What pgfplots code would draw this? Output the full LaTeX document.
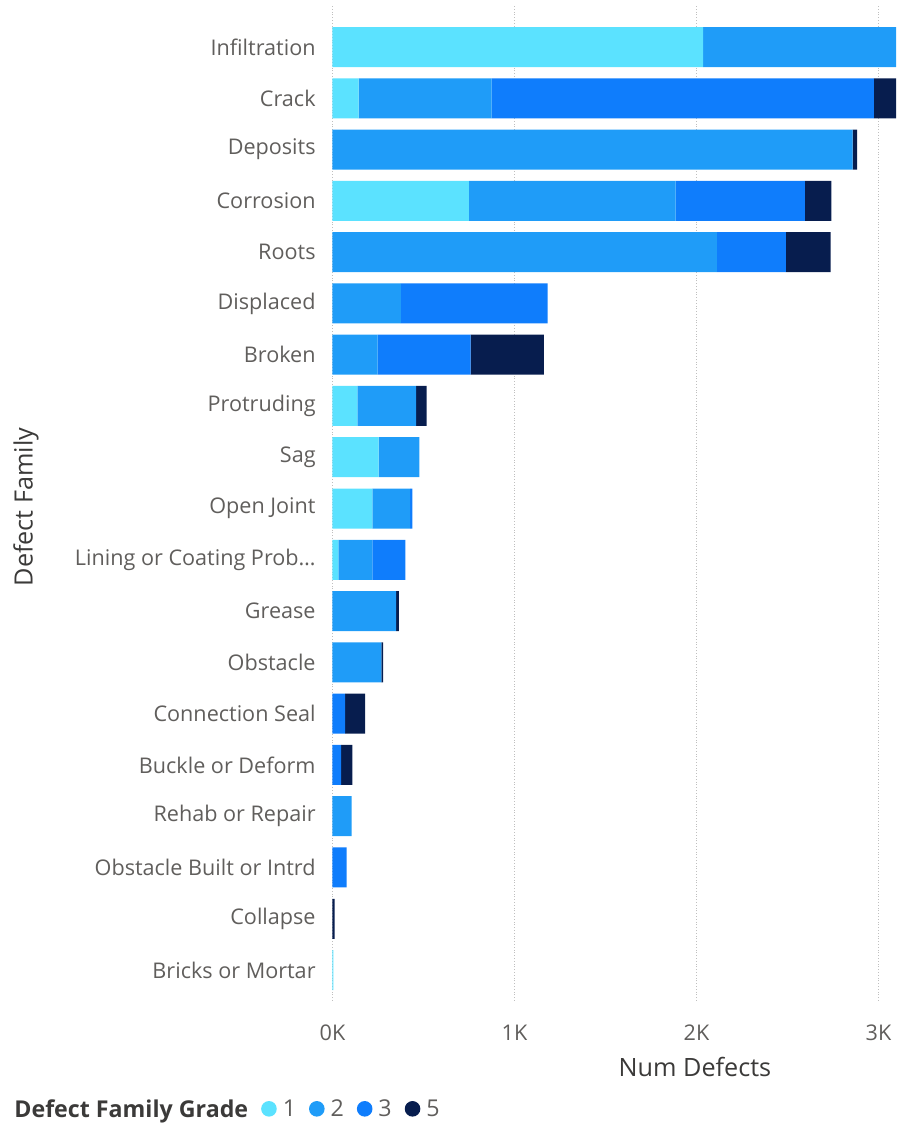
\documentclass[border=0pt]{standalone}
\usepackage{pgfplots}
\pgfplotsset{compat=1.18}
\usepackage{fontspec}
\setmainfont{Open Sans}
\definecolor{g1}{HTML}{5BE2FF}
\definecolor{g2}{HTML}{1F9CF8}
\definecolor{g3}{HTML}{0F7DFC}
\definecolor{g5}{HTML}{071D4E}
\definecolor{ticktxt}{HTML}{605E5C}
\definecolor{titletxt}{HTML}{3B3A39}
\begin{document}
\begin{tikzpicture}
\useasboundingbox (0,0) rectangle (448pt,565.5pt);
\clip (0,0) rectangle (448pt,565.5pt);
\begin{axis}[
  at={(166.25pt,65.1pt)}, anchor=south west,
  scale only axis, width=291.2pt, height=497.4pt,
  xbar stacked, bar width=20pt,
  xmin=0, xmax=3200, ymin=-0.6, ymax=18.8,
  ytick={0,1,2,3,4,5,6,7,8,9,10,11,12,13,14,15,16,17,18},
  yticklabels={Bricks or Mortar,Collapse,Obstacle Built or Intrd,Rehab or Repair,Buckle or Deform,Connection Seal,Obstacle,Grease,{Lining or Coating Prob\ldots},Open Joint,Sag,Protruding,Broken,Displaced,Roots,Corrosion,Deposits,Crack,Infiltration},
  xtick={0,1000,2000,3000}, xticklabels={0K,1K,2K,3K},
  xmajorgrids, grid style={densely dotted, black!25, line width=0.6pt},
  axis line style={draw=none}, major tick length=0pt,
  tick label style={font=\fontsize{10.8}{12}\selectfont, text=ticktxt},
  yticklabel style={anchor=east, inner sep=0pt, xshift=-8.25pt},
  xticklabel style={anchor=center, inner sep=0pt, yshift=-16pt},
  xlabel={Num Defects}, ylabel={Defect Family},
  label style={font=\fontsize{12.6}{14}\selectfont, text=titletxt},
  xlabel style={at={(axis description cs:0.6224,-0.0665)}, anchor=center},
  ylabel style={at={(axis description cs:-0.5263,0.4964)}, anchor=center},
  legend image code/.code={\fill[#1] (3.9pt,0.6pt) circle (3.9pt);},
  legend style={at={(axis description cs:-0.5675,-0.1098)}, anchor=west, draw=none, fill=none,
    legend columns=-1, font=\fontsize{11.6}{13}\selectfont, text=ticktxt,
    nodes={inner sep=0pt},
    /tikz/every odd column/.append style={column sep=3pt},
    /tikz/every even column/.append style={column sep=6.5pt}},
]
\addlegendimage{empty legend}
\addlegendentry{\textcolor{titletxt}{\bfseries Defect Family Grade}}
\addplot[fill=g1, draw=none] coordinates {(5,0) (0,1) (0,2) (0,3) (0,4) (0,5) (0,6) (0,7) (32,8) (219,9) (254,10) (137,11) (0,12) (0,13) (0,14) (749,15) (0,16) (143,17) (2037,18)};
\addlegendentry{1}
\addplot[fill=g2, draw=none] coordinates {(0,0) (0,1) (0,2) (105,3) (0,4) (0,5) (268,6) (350,7) (187,8) (207,9) (223,10) (322,11) (248,12) (376,13) (2112,14) (1136,15) (2858,16) (731,17) (1300,18)};
\addlegendentry{2}
\addplot[fill=g3, draw=none] coordinates {(0,0) (0,1) (78,2) (0,3) (47,4) (69,5) (0,6) (0,7) (181,8) (13,9) (0,10) (0,11) (511,12) (806,13) (379,14) (711,15) (0,16) (2101,17) (0,18)};
\addlegendentry{3}
\addplot[fill=g5, draw=none] coordinates {(0,0) (12,1) (0,2) (0,3) (62,4) (110,5) (10,6) (15,7) (0,8) (0,9) (0,10) (58,11) (403,12) (0,13) (246,14) (145,15) (25,16) (300,17) (0,18)};
\addlegendentry{5}
\end{axis}
\end{tikzpicture}
\end{document}
